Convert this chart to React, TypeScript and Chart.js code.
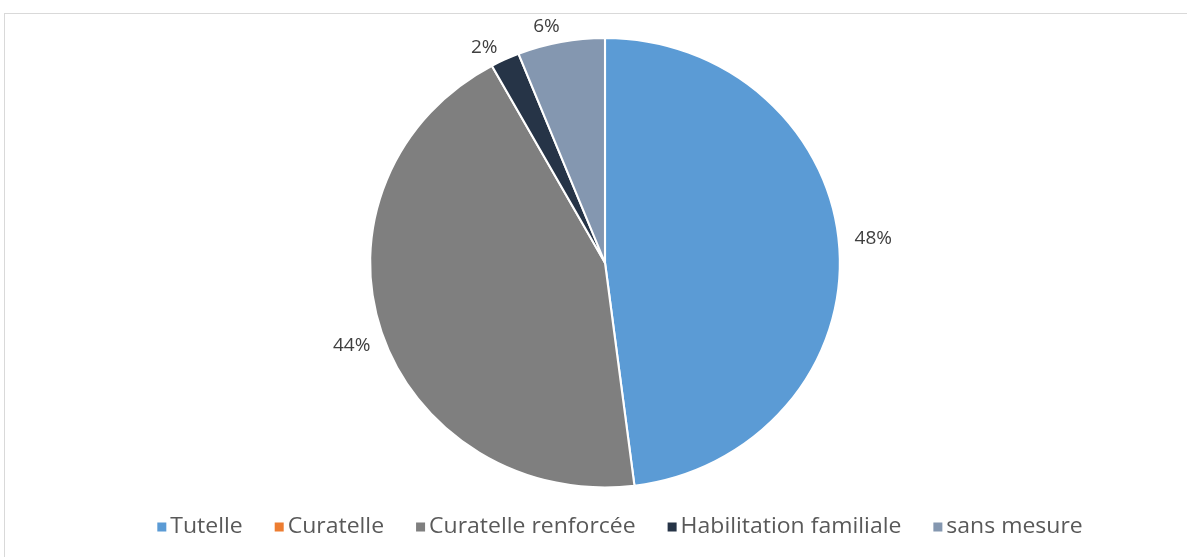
import React, { useEffect, useRef } from "react";
import { Chart, registerables } from "chart.js";

Chart.register(...registerables);

const categories = ["Tutelle", "Curatelle", "Curatelle renforcée", "Habilitation familiale", "sans mesure"];
const shares = [48, 0, 44, 2, 6];
const sliceColors = ["#5B9BD5", "#ED7D31", "#7F7F7F", "#263447", "#8497B0"];

const SX = 1.045;
const FONT = "'Open Sans', 'Noto Sans', sans-serif";
const LEGEND_CX = 620;
const LEGEND_Y = 527;
const LEGEND_GAP = 32;

const ellipseAndLabels = {
  id: "ellipseAndLabels",
  beforeDatasetsDraw(chart: any) {
    const arc = chart.getDatasetMeta(0).data[0];
    if (!arc) return;
    const ctx = chart.ctx;
    ctx.save();
    ctx.translate(arc.x, arc.y);
    ctx.scale(SX, 1);
    ctx.translate(-arc.x, -arc.y);
  },
  afterDatasetsDraw(chart: any) {
    const ctx = chart.ctx;
    ctx.restore();
    const meta = chart.getDatasetMeta(0);
    ctx.save();
    ctx.font = `19px ${FONT}`;
    ctx.fillStyle = "#404040";
    ctx.textAlign = "center";
    ctx.textBaseline = "middle";
    meta.data.forEach((arc: any, i: number) => {
      const v = shares[i];
      if (!v) return;
      const mid = (arc.startAngle + arc.endAngle) / 2 - 0.035;
      const c = Math.cos(mid);
      const s = Math.sin(mid);
      const text = v + "%";
      const w = ctx.measureText(text).width;
      const h = 19;
      const ex = arc.x + (arc.outerRadius * SX + 16) * c;
      const ey = arc.y + (arc.outerRadius + 8) * s;
      ctx.fillText(text, ex + c * (w / 2), ey + s * (h / 2));
    });
    ctx.restore();
  },
  afterDraw(chart: any) {
    const ctx = chart.ctx;
    ctx.save();
    ctx.font = `22px ${FONT}`;
    ctx.textBaseline = "middle";
    ctx.textAlign = "left";
    const box = 9;
    const boxGap = 4;
    const widths = categories.map((t) => ctx.measureText(t).width * SX);
    const total = widths.reduce((a, w) => a + box + boxGap + w, 0) + LEGEND_GAP * (categories.length - 1);
    let x = LEGEND_CX - total / 2;
    categories.forEach((t, i) => {
      ctx.fillStyle = sliceColors[i];
      ctx.fillRect(x, LEGEND_Y - box / 2, box, box);
      ctx.save();
      ctx.translate(x + box + boxGap, LEGEND_Y);
      ctx.scale(SX, 1);
      ctx.fillStyle = "#595959";
      ctx.fillText(t, 0, 0);
      ctx.restore();
      x += box + boxGap + widths[i] + LEGEND_GAP;
    });
    ctx.restore();
  },
};

export default function App() {
  const ref = useRef<HTMLCanvasElement | null>(null);
  useEffect(() => {
    if (!ref.current) return;
    const chart = new Chart(ref.current, {
      type: "pie",
      data: {
        labels: categories,
        datasets: [
          {
            data: shares,
            backgroundColor: sliceColors,
            borderColor: "#ffffff",
            borderWidth: 2,
          },
        ],
      },
      options: {
        responsive: false,
        animation: false,
        devicePixelRatio: 1,
        layout: { padding: { left: 23, right: 0, top: 37, bottom: 68.5 } },
        plugins: {
          legend: { display: false },
          tooltip: { enabled: false },
        },
      },
      plugins: [ellipseAndLabels],
    });
    return () => chart.destroy();
  }, []);
  return (
    <div style={{ position: "fixed", left: 0, top: 0, width: 1187, height: 557, background: "#fff", overflow: "hidden" }}>
      <div style={{ position: "absolute", left: 4, top: 13, width: 1200, height: 600, border: "1px solid #d9d9d9", boxSizing: "border-box" }} />
      <canvas ref={ref} width={1187} height={557} style={{ position: "absolute", left: 0, top: 0, width: 1187, height: 557 }} />
    </div>
  );
}
